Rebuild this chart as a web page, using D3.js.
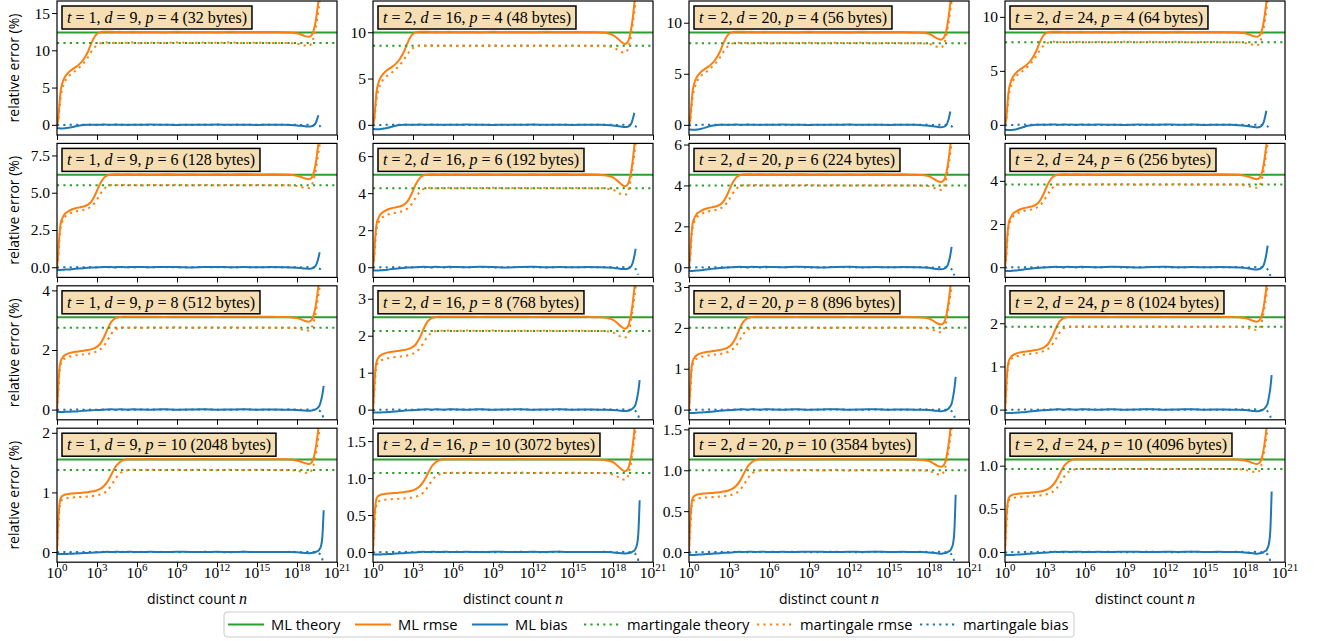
<!DOCTYPE html>
<html lang="en">
<head>
<meta charset="UTF-8">
<title>Relative error of ML and martingale estimators</title>
<style>
  body { margin: 0; background: #fff; }
  svg { display: block; }
  .tick text { font-family: "Liberation Serif", serif; font-size: 15.5px; fill: #000; }
  .tick line { stroke: #000; }
  .domain { display: none; }
</style>
</head>
<body>
<div id="chart"></div>
<script src="https://cdnjs.cloudflare.com/ajax/libs/d3/7.8.5/d3.min.js"></script>
<script>
// ---- data ----
const tVals = [1, 2, 2, 2];                 // columns
const dVals = [9, 16, 20, 24];
const pVals = [4, 6, 8, 10];                // rows
const byteVals = [[32, 48, 56, 64], [128, 192, 224, 256], [512, 768, 896, 1024], [2048, 3072, 3584, 4096]];

const mlTheory = [[12.4, 9.98, 9.05, 8.56], [6.2, 4.99, 4.52, 4.28], [3.1, 2.5, 2.26, 2.14], [1.55, 1.25, 1.13, 1.07]];
const martTheory = [[10.99, 8.53, 8.0, 7.66], [5.5, 4.27, 4.0, 3.83], [2.75, 2.13, 2.0, 1.92], [1.375, 1.07, 1.0, 0.96]];

const yTicks = [
  [[0, 5, 10, 15], [0, 5, 10], [0, 5, 10], [0, 5, 10]],
  [[0, 2.5, 5, 7.5], [0, 2, 4, 6], [0, 2, 4, 6], [0, 2, 4]],
  [[0, 2, 4], [0, 1, 2, 3], [0, 1, 2, 3], [0, 1, 2]],
  [[0, 1, 2], [0, 0.5, 1, 1.5], [0, 0.5, 1, 1.5], [0, 0.5, 1]]
];
const xTickExp = [0, 3, 6, 9, 12, 15, 18, 21];

// log10(n) sample points
const xHead = [0, 0.08, 0.17, 0.27, 0.4, 0.6, 0.85, 1.1, 1.4, 1.7, 2.0, 2.3, 2.6, 2.9, 3.2, 3.5, 3.8, 4.1, 4.4, 4.7, 5.0, 5.3, 5.7, 6.2, 7, 8, 9, 10, 11, 12, 13, 14, 15, 16];
const xTail = [17, 17.5, 18, 18.3, 18.6, 18.9, 19.1, 19.3, 19.4, 19.5, 19.6, 19.7, 19.8, 19.9, 20.0, 20.1];

// ML rmse / ML theory, one row per p
const mlRmseHead = [
  [0, 0.05, 0.2, 0.36, 0.45, 0.52, 0.565, 0.595, 0.625, 0.66, 0.71, 0.785, 0.89, 0.97, 1.0, 1.007, 1.008, 1.006, 1.005, 1.006, 1.004, 1.005, 1.006, 1.004, 1.005, 1.003, 1.006, 1.004, 1.005, 1.003, 1.006, 1.004, 1.005, 1.004],
  [0, 0.12, 0.33, 0.47, 0.53, 0.58, 0.605, 0.625, 0.638, 0.648, 0.658, 0.675, 0.715, 0.795, 0.895, 0.965, 0.995, 1.004, 1.006, 1.005, 1.004, 1.006, 1.004, 1.005, 1.003, 1.006, 1.004, 1.005, 1.003, 1.005, 1.004, 1.006, 1.004, 1.005],
  [0, 0.2, 0.42, 0.52, 0.56, 0.59, 0.608, 0.618, 0.626, 0.632, 0.638, 0.645, 0.655, 0.672, 0.705, 0.775, 0.875, 0.955, 0.99, 1.002, 1.005, 1.004, 1.006, 1.004, 1.005, 1.003, 1.006, 1.004, 1.005, 1.003, 1.005, 1.004, 1.006, 1.004],
  [0, 0.3, 0.49, 0.58, 0.607, 0.622, 0.628, 0.633, 0.637, 0.64, 0.644, 0.648, 0.654, 0.663, 0.68, 0.712, 0.765, 0.845, 0.925, 0.972, 0.994, 1.003, 1.005, 1.004, 1.006, 1.004, 1.005, 1.003, 1.006, 1.004, 1.005, 1.003, 1.005, 1.004]
];
// martingale rmse / martingale theory, one row per p
const martRmseHead = [
  [0, 0.035, 0.17, 0.33, 0.44, 0.53, 0.59, 0.625, 0.66, 0.705, 0.755, 0.82, 0.9, 0.96, 0.992, 1.003, 1.004, 1.0, 1.006, 0.998, 1.004, 1.001, 1.005, 0.997, 1.003, 1.0, 1.006, 0.998, 1.004, 1.001, 1.005, 0.998, 1.003, 1.0],
  [0, 0.09, 0.31, 0.48, 0.56, 0.615, 0.645, 0.665, 0.68, 0.69, 0.7, 0.715, 0.745, 0.8, 0.88, 0.95, 0.99, 1.002, 1.004, 0.999, 1.005, 1.0, 1.004, 0.998, 1.003, 1.001, 1.005, 0.998, 1.003, 1.0, 1.004, 0.999, 1.003, 1.0],
  [0, 0.16, 0.42, 0.55, 0.6, 0.625, 0.643, 0.653, 0.662, 0.668, 0.674, 0.68, 0.69, 0.705, 0.73, 0.775, 0.85, 0.93, 0.978, 0.996, 1.003, 1.0, 1.005, 0.998, 1.004, 1.0, 1.005, 0.999, 1.003, 1.0, 1.004, 0.998, 1.003, 1.0],
  [0, 0.24, 0.49, 0.61, 0.64, 0.652, 0.66, 0.665, 0.668, 0.671, 0.674, 0.678, 0.683, 0.69, 0.7, 0.718, 0.755, 0.82, 0.9, 0.958, 0.985, 0.998, 1.003, 1.0, 1.005, 0.999, 1.004, 1.0, 1.005, 0.998, 1.003, 1.0, 1.004, 1.0]
];
// tails near the end of the range, one row per column (t, d)
const mlRmseTail = [
  [1.003, 1.0, 0.99, 0.977, 0.96, 0.952, 0.97, 1.05, 1.12, 1.22, 1.33, 1.45, 1.6, 1.75, 1.92, 2.1],
  [1.0, 0.993, 0.972, 0.94, 0.9, 0.875, 0.895, 0.99, 1.07, 1.18, 1.31, 1.45, 1.6, 1.75, 1.92, 2.1],
  [1.0, 0.997, 0.985, 0.962, 0.935, 0.922, 0.94, 1.02, 1.1, 1.2, 1.32, 1.45, 1.6, 1.75, 1.92, 2.1],
  [1.003, 1.0, 0.99, 0.978, 0.962, 0.952, 0.968, 1.04, 1.11, 1.21, 1.32, 1.45, 1.6, 1.75, 1.92, 2.1]
];
const martRmseTail = [
  [1.0, 0.998, 0.992, 0.98, 0.968, 0.965, 1.0, 1.1, 1.18, 1.28, 1.39, 1.5, 1.65, 1.8, 2.0, 2.2],
  [1.0, 0.995, 0.98, 0.955, 0.925, 0.915, 0.95, 1.08, 1.18, 1.3, 1.43, 1.56, 1.7, 1.85, 2.0, 2.2],
  [1.0, 0.997, 0.99, 0.975, 0.955, 0.945, 0.98, 1.09, 1.18, 1.28, 1.4, 1.52, 1.66, 1.8, 2.0, 2.2],
  [1.0, 0.998, 0.99, 0.98, 0.968, 0.96, 0.99, 1.09, 1.17, 1.27, 1.38, 1.5, 1.65, 1.8, 2.0, 2.2]
];

// bias in percent, one row per p (null = no data)
const mlBiasHead = [
  [-0.42, -0.45, -0.47, -0.48, -0.48, -0.46, -0.4, -0.32, -0.2, -0.09, -0.03, 0.0, 0.01, 0.02, 0.01, 0.03, 0.02, 0.0, 0.03, 0.01, 0.02, -0.01, 0.02, 0.0, 0.03, 0.01, -0.01, 0.02, 0.0, 0.03, 0.01, 0.02, -0.01, 0.01],
  [-0.15, -0.17, -0.18, -0.18, -0.17, -0.16, -0.15, -0.13, -0.1, -0.08, -0.06, -0.04, -0.02, -0.01, 0.0, 0.01, 0.02, 0.01, 0.0, 0.02, 0.01, 0.0, 0.02, 0.01, 0.0, 0.02, 0.01, -0.01, 0.01, 0.02, 0.0, 0.01, 0.0, 0.01],
  [-0.07, -0.08, -0.08, -0.08, -0.08, -0.075, -0.07, -0.065, -0.06, -0.05, -0.04, -0.03, -0.02, -0.015, -0.01, 0.0, 0.005, 0.01, 0.0, 0.01, 0.005, 0.0, 0.01, 0.005, 0.0, 0.01, 0.0, 0.005, 0.01, 0.0, 0.005, 0.01, 0.0, 0.005],
  [-0.03, -0.035, -0.035, -0.035, -0.035, -0.033, -0.03, -0.028, -0.025, -0.02, -0.018, -0.015, -0.01, -0.008, -0.005, 0.0, 0.003, 0.0, 0.004, 0.002, 0.0, 0.004, 0.002, 0.0, 0.003, 0.0, 0.004, 0.002, 0.0, 0.003, 0.001, 0.004, 0.0, 0.002]
];
const mlBiasTail = [
  [0.0, -0.03, -0.08, -0.13, -0.19, -0.24, -0.2, -0.02, 0.25, 0.7, 1.3, null, null, null, null, null],
  [0.0, -0.01, -0.03, -0.06, -0.09, -0.1, -0.08, 0.0, 0.1, 0.3, 0.6, 1.0, null, null, null, null],
  [0.0, 0.0, -0.01, -0.02, -0.03, -0.04, -0.03, -0.01, 0.01, 0.04, 0.08, 0.15, 0.3, 0.5, 0.8, null],
  [0.0, 0.0, -0.005, -0.01, -0.015, -0.02, -0.015, -0.01, 0.0, 0.01, 0.02, 0.05, 0.1, 0.25, 0.7, null]
];
const martBiasHead = [
  [0.0, -0.05, -0.03, 0.02, 0.0, -0.02, 0.01, 0.0, 0.02, -0.01, 0.01, 0.0, 0.02, -0.01, 0.01, 0.0, -0.02, 0.01, 0.0, 0.02, -0.01, 0.01, 0.0, 0.02, -0.01, 0.0, 0.01, -0.01, 0.02, 0.0, -0.01, 0.01, 0.0, 0.01],
  [0.0, -0.02, 0.0, 0.01, -0.01, 0.0, 0.01, -0.01, 0.0, 0.01, 0.0, -0.01, 0.01, 0.0, -0.01, 0.01, 0.0, 0.01, -0.01, 0.0, 0.01, 0.0, -0.01, 0.01, 0.0, 0.01, -0.01, 0.0, 0.01, 0.0, -0.01, 0.01, 0.0, 0.0],
  [0.0, -0.01, 0.0, 0.005, -0.005, 0.0, 0.005, -0.005, 0.0, 0.005, 0.0, -0.005, 0.005, 0.0, -0.005, 0.005, 0.0, 0.005, -0.005, 0.0, 0.005, 0.0, -0.005, 0.005, 0.0, 0.005, -0.005, 0.0, 0.005, 0.0, -0.005, 0.005, 0.0, 0.0],
  [0.0, -0.005, 0.0, 0.003, -0.003, 0.0, 0.003, -0.003, 0.0, 0.003, 0.0, -0.003, 0.003, 0.0, -0.003, 0.003, 0.0, 0.003, -0.003, 0.0, 0.003, 0.0, -0.003, 0.003, 0.0, 0.003, -0.003, 0.0, 0.003, 0.0, -0.003, 0.003, 0.0, 0.0]
];
const martBiasTail = [
  [0.0, 0.02, 0.0, -0.01, 0.01, 0.0, -0.02, 0.0, -0.02, -0.05, -0.1, -0.15, -0.45, null, null, null],
  [0.0, 0.01, 0.0, -0.01, 0.01, 0.0, -0.01, 0.0, -0.01, -0.03, -0.06, -0.1, -0.18, -0.4, null, null],
  [0.0, 0.01, 0.0, -0.005, 0.01, 0.0, -0.01, 0.0, -0.005, -0.01, -0.02, -0.04, -0.08, -0.15, -0.35, null],
  [0.0, 0.005, 0.0, -0.005, 0.005, 0.0, -0.005, 0.0, -0.005, -0.01, -0.015, -0.03, -0.06, -0.12, -0.3, null]
];

const legendItems = [
  { label: "ML theory", color: "#2ca02c", dotted: false },
  { label: "ML rmse", color: "#ff7f0e", dotted: false },
  { label: "ML bias", color: "#1f77b4", dotted: false },
  { label: "martingale theory", color: "#2ca02c", dotted: true },
  { label: "martingale rmse", color: "#ff7f0e", dotted: true },
  { label: "martingale bias", color: "#1f77b4", dotted: true }
];

// ---- layout ----
const width = 1321, height = 641;
const pw = 280, ph = 134;
const left0 = 57, colStep = 316, top0 = 1, rowStep = 142.4;
const green = "#2ca02c", orange = "#ff7f0e", blue = "#1f77b4";
const dots = "2.2,4.2";
const serif = "'Liberation Serif', serif";
const sans = "'Open Sans', sans-serif";

const svg = d3.select("#chart").append("svg")
    .attr("width", width)
    .attr("height", height);

const x = d3.scaleLog().domain([1, 1e21]).range([0, pw]);
const xAll = xHead.concat(xTail);
const nHead = xHead.length;

function series(head, tail, scale) {
    return xAll.map((lx, i) => {
        const v = i < nHead ? head[i] : tail[i - nHead];
        return { n: Math.pow(10, lx), v: v == null ? null : v * scale };
    });
}

pVals.forEach((p, r) => {
    tVals.forEach((t, c) => {
        const T = mlTheory[r][c], Tm = martTheory[r][c];
        const gx = left0 + c * colStep, gy = top0 + r * rowStep;
        const g = svg.append("g").attr("transform", `translate(${gx},${gy})`);

        const y = d3.scaleLinear().domain([-0.11 * T, 1.34 * T]).range([ph, 0]);

        const clipId = `clip-${r}-${c}`;
        g.append("clipPath").attr("id", clipId)
            .append("rect").attr("width", pw).attr("height", ph);

        const plot = g.append("g").attr("clip-path", `url(#${clipId})`);

        const line = d3.line()
            .defined(d => d.v != null)
            .x(d => x(d.n))
            .y(d => y(d.v))
            .curve(d3.curveMonotoneX);

        function hline(val, color, dotted) {
            plot.append("line")
                .attr("x1", 0).attr("x2", pw)
                .attr("y1", y(val)).attr("y2", y(val))
                .attr("stroke", color).attr("stroke-width", 2)
                .attr("stroke-dasharray", dotted ? dots : null);
        }
        function curve(data, color, dotted) {
            plot.append("path")
                .datum(data)
                .attr("d", line)
                .attr("fill", "none")
                .attr("stroke", color)
                .attr("stroke-width", 2)
                .attr("stroke-dasharray", dotted ? dots : null);
        }

        hline(T, green, false);
        curve(series(mlRmseHead[r], mlRmseTail[c], T), orange, false);
        curve(series(mlBiasHead[r], mlBiasTail[r], 1), blue, false);
        hline(Tm, green, true);
        curve(series(martRmseHead[r], martRmseTail[c], Tm), orange, true);
        curve(series(martBiasHead[r], martBiasTail[r], 1), blue, true);

        // axes
        g.append("g")
            .attr("transform", `translate(0,${ph})`)
            .call(d3.axisBottom(x).tickValues(xTickExp.map(k => Math.pow(10, k))).tickSize(5).tickFormat(""));

        const ticks = yTicks[r][c];
        const decimals = ticks.some(v => v % 1 !== 0) ? 1 : 0;
        g.append("g")
            .call(d3.axisLeft(y).tickValues(ticks).tickSize(5).tickPadding(2)
                .tickFormat(v => v.toFixed(decimals)));

        g.append("rect")
            .attr("width", pw).attr("height", ph)
            .attr("fill", "none").attr("stroke", "#000").attr("stroke-width", 1.2);

        // label box
        const box = g.append("g").attr("transform", "translate(5,5)");
        const rect = box.append("rect").attr("fill", "#f5deb3").attr("stroke", "#000").attr("stroke-width", 1.5);
        const txt = box.append("text")
            .attr("x", 5).attr("y", 17)
            .style("font-family", serif).style("font-size", "16px");
        const parts = [["t", true], [` = ${t}, `, false], ["d", true], [` = ${dVals[c]}, `, false],
                       ["p", true], [` = ${p} (${byteVals[r][c]} bytes)`, false]];
        parts.forEach(([s, it]) => {
            txt.append("tspan").attr("font-style", it ? "italic" : null).text(s);
        });
        const tw = txt.node().getComputedTextLength();
        rect.attr("width", tw + 10).attr("height", 23);

        // x tick labels on bottom row
        if (r === pVals.length - 1) {
            xTickExp.forEach(k => {
                const lab = g.append("text")
                    .attr("x", x(Math.pow(10, k)))
                    .attr("y", ph + 16)
                    .attr("text-anchor", "middle")
                    .style("font-family", serif).style("font-size", "15.5px");
                lab.append("tspan").text("10");
                lab.append("tspan").attr("dy", -7).style("font-size", "11px").text(k);
            });
            const xl = g.append("text")
                .attr("x", pw / 2).attr("y", ph + 42)
                .attr("text-anchor", "middle")
                .style("font-family", sans).style("font-size", "14px");
            xl.append("tspan").text("distinct count ");
            xl.append("tspan").style("font-family", serif).style("font-style", "italic").style("font-size", "16px").text("n");
        }

        // y label on first column
        if (c === 0) {
            g.append("text")
                .attr("transform", `translate(-38,${ph / 2}) rotate(-90)`)
                .attr("text-anchor", "middle")
                .style("font-family", sans).style("font-size", "14px")
                .text("relative error (%)");
        }
    });
});

// legend
const legX = [4, 131, 248, 360, 533, 696];
const leg = svg.append("g").attr("transform", "translate(224,612)");
leg.append("rect")
    .attr("width", 850).attr("height", 25).attr("rx", 3)
    .attr("fill", "#fff").attr("stroke", "#ccc");
legendItems.forEach((d, i) => {
    const it = leg.append("g").attr("transform", `translate(${legX[i]},0)`);
    it.append("line")
        .attr("x1", 0).attr("x2", 36).attr("y1", 12.5).attr("y2", 12.5)
        .attr("stroke", d.color).attr("stroke-width", 2)
        .attr("stroke-dasharray", d.dotted ? dots : null);
    it.append("text")
        .attr("x", 43).attr("y", 17.5)
        .style("font-family", sans).style("font-size", "14.7px")
        .text(d.label);
});
</script>
</body>
</html>
